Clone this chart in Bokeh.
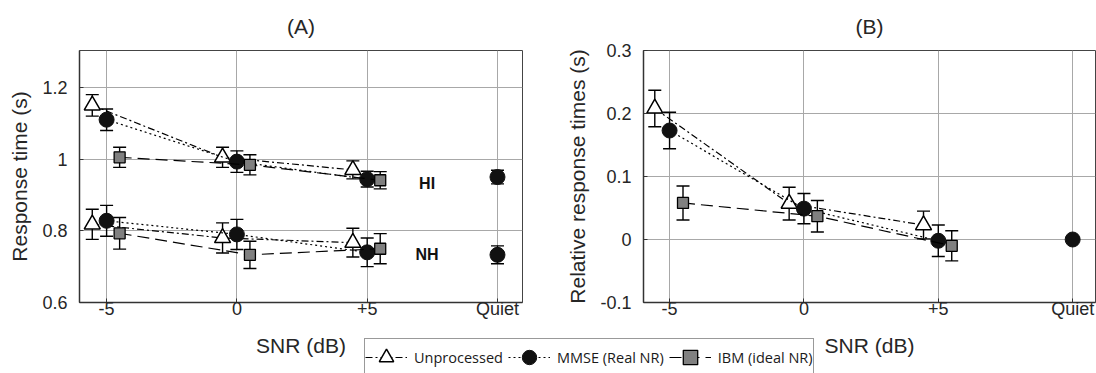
from bokeh.plotting import figure
from bokeh.models import (ColumnDataSource, Whisker, TeeHead, FixedTicker, Legend,
                          LegendItem, Label, Range1d)
from bokeh.layouts import row, column
from bokeh.embed import file_html
from bokeh.resources import INLINE

# ---------------- data ----------------
snr_ticks = [-5, 0, 5, 10]
snr_labels = ["-5", "0", "+5", "Quiet"]
snr_x = [-5, 0, 5]
quiet_x = [10]

# Panel A: response time (s)
hi_unproc = [1.150, 1.005, 0.970]
hi_unproc_err = [0.030, 0.028, 0.025]
hi_mmse = [1.110, 0.993, 0.944]
hi_mmse_err = [0.030, 0.030, 0.022]
hi_ibm = [1.005, 0.984, 0.941]
hi_ibm_err = [0.028, 0.028, 0.024]
hi_quiet = [0.950]
hi_quiet_err = [0.019]

nh_unproc = [0.818, 0.780, 0.767]
nh_unproc_err = [0.042, 0.042, 0.040]
nh_mmse = [0.828, 0.790, 0.740]
nh_mmse_err = [0.043, 0.042, 0.040]
nh_ibm = [0.793, 0.733, 0.750]
nh_ibm_err = [0.044, 0.038, 0.042]
nh_quiet = [0.733]
nh_quiet_err = [0.025]

a_yticks = [0.6, 0.8, 1.0, 1.2]
a_ylabels = ["0.6", "0.8", "1", "1.2"]

# Panel B: relative response times (s)
rel_unproc = [0.208, 0.057, 0.023]
rel_unproc_err = [0.029, 0.026, 0.022]
rel_mmse = [0.173, 0.049, -0.002]
rel_mmse_err = [0.029, 0.024, 0.025]
rel_ibm = [0.058, 0.037, -0.010]
rel_ibm_err = [0.027, 0.025, 0.024]
rel_quiet = [0.0]

b_yticks = [-0.1, 0.0, 0.1, 0.2, 0.3]
b_ylabels = ["-0.1", "0", "0.1", "0.2", "0.3"]

series_names = ["Unprocessed", "MMSE (Real NR)", "IBM (ideal NR)"]

# ---------------- styles ----------------
FONT = "Liberation Sans"
TXT = "#262626"
STY = {
    "unproc": dict(marker="triangle", size=16, fill_color="white", line_color="black",
                   line_width=1.5, dash="7 3 2 3", dx=-0.55),
    "mmse": dict(marker="circle", size=15, fill_color="#111111", line_color="#111111",
                 line_width=1.0, dash="2 3", dx=0.0),
    "ibm": dict(marker="square", size=11, fill_color="#808080", line_color="black",
                line_width=1.3, dash="12 6", dx=0.5),
}


def make_panel(title, ylabel, xr, yr, yticks, ylabels, width, mleft, mright):
    p = figure(width=width, height=373, x_range=Range1d(*xr), y_range=Range1d(*yr),
               output_backend="svg", toolbar_location=None,
               min_border_left=mleft, min_border_right=mright,
               min_border_top=50, min_border_bottom=71)
    p.title.text = title
    p.title.align = "center"
    p.title.text_font = FONT
    p.title.text_font_size = "21px"
    p.title.text_font_style = "normal"
    p.title.text_color = TXT
    p.title.standoff = 25
    p.outline_line_color = "#444444"
    p.outline_line_width = 1
    p.background_fill_color = "white"

    p.xaxis.ticker = FixedTicker(ticks=snr_ticks)
    p.xaxis.major_label_overrides = {t: l for t, l in zip(snr_ticks, snr_labels)}
    p.xaxis.axis_label = "SNR (dB)"
    p.yaxis.ticker = FixedTicker(ticks=yticks)
    p.yaxis.major_label_overrides = {t: l for t, l in zip(yticks, ylabels)}
    p.yaxis.axis_label = ylabel
    for ax in (p.xaxis, p.yaxis):
        ax.axis_line_color = "#333333"
        ax.axis_line_width = 1.5
        ax.major_tick_in = 4
        ax.major_tick_out = 0
        ax.major_tick_line_color = "#333333"
        ax.minor_tick_line_color = None
        ax.major_label_text_font = FONT
        ax.major_label_text_font_size = "18px"
        ax.major_label_text_color = TXT
        ax.axis_label_text_font = FONT
        ax.axis_label_text_font_size = "21px"
        ax.axis_label_text_font_style = "normal"
        ax.axis_label_text_color = TXT
    p.xaxis.major_label_standoff = -4
    p.xaxis.axis_label_standoff = 12
    p.yaxis.major_label_standoff = 12
    p.yaxis.axis_label_standoff = 8

    p.xgrid.ticker = FixedTicker(ticks=snr_ticks)
    p.ygrid.ticker = FixedTicker(ticks=yticks)
    for g in (p.xgrid, p.ygrid):
        g.grid_line_color = "#a8a8a8"
        g.grid_line_width = 1
        g.grid_line_alpha = 1.0
    return p


def draw(p, key, xs, ys, errs=None, connect=True):
    s = STY[key]
    xx = [x + s["dx"] for x in xs]
    if connect:
        p.line(xx, ys, line_color="black", line_width=1.2, line_dash=s["dash"])
    if errs is not None:
        src = ColumnDataSource(dict(base=xx, upper=[y + e for y, e in zip(ys, errs)],
                                    lower=[y - e for y, e in zip(ys, errs)]))
        w = Whisker(base="base", upper="upper", lower="lower", source=src,
                    line_color="black", line_width=1.4, level="underlay",
                    upper_head=TeeHead(size=13, line_width=1.4, line_color="black"),
                    lower_head=TeeHead(size=13, line_width=1.4, line_color="black"))
        p.add_layout(w)
    p.scatter(xx, ys, marker=s["marker"], size=s["size"], fill_color=s["fill_color"],
              line_color=s["line_color"], line_width=s["line_width"])


# ---------------- panel A ----------------
pa = make_panel("(A)", "Response time (s)", (-6.04, 10.96), (0.6, 1.303),
                a_yticks, a_ylabels, 550, 79, 28)
draw(pa, "unproc", snr_x, hi_unproc, hi_unproc_err)
draw(pa, "mmse", snr_x, hi_mmse, hi_mmse_err)
draw(pa, "ibm", snr_x, hi_ibm, hi_ibm_err)
draw(pa, "mmse", quiet_x, hi_quiet, hi_quiet_err, connect=False)
draw(pa, "unproc", snr_x, nh_unproc, nh_unproc_err)
draw(pa, "mmse", snr_x, nh_mmse, nh_mmse_err)
draw(pa, "ibm", snr_x, nh_ibm, nh_ibm_err)
draw(pa, "mmse", quiet_x, nh_quiet, nh_quiet_err, connect=False)

for txt, yy in (("HI", 0.933), ("NH", 0.733)):
    pa.add_layout(Label(x=7.3, y=yy, text=txt, text_font=FONT, text_font_size="16px",
                        text_font_style="bold", text_align="center",
                        text_baseline="middle", text_color="#111111"))

# ---------------- panel B ----------------
pb = make_panel("(B)", "Relative response times (s)", (-5.97, 10.85), (-0.1, 0.3),
                b_yticks, b_ylabels, 546, 93, 1)
draw(pb, "unproc", snr_x, rel_unproc, rel_unproc_err)
draw(pb, "mmse", snr_x, rel_mmse, rel_mmse_err)
draw(pb, "ibm", snr_x, rel_ibm, rel_ibm_err)
draw(pb, "mmse", quiet_x, rel_quiet, None, connect=False)

# ---------------- shared legend (own small figure overlapping the bottom) ----------------
# its ranges lie far from the data, so only the legend is visible here
pl = figure(width=457, height=35, x_range=Range1d(100, 101), y_range=Range1d(100, 101),
            output_backend="svg", toolbar_location=None, title=None,
            x_axis_type=None, y_axis_type=None, min_border=0)
pl.grid.visible = False
pl.outline_line_color = None
pl.background_fill_alpha = 0.0
pl.border_fill_alpha = 0.0
items = []
for key, name, ys in zip(["unproc", "mmse", "ibm"], series_names,
                         [hi_unproc, hi_mmse, hi_ibm]):
    s = STY[key]
    lr = pl.line(snr_x, ys, line_color="black", line_width=1.2, line_dash=s["dash"])
    sr = pl.scatter(snr_x, ys, marker=s["marker"], size=s["size"],
                    fill_color=s["fill_color"], line_color=s["line_color"],
                    line_width=s["line_width"])
    items.append(LegendItem(label=name, renderers=[lr, sr]))
legend = Legend(items=items, location="top_left", orientation="horizontal",
                label_text_font="Open Sans", label_text_font_size="14.5px",
                label_text_color="#1a1a1a",
                glyph_width=42, glyph_height=36, label_standoff=7, spacing=5,
                padding=0, margin=0, border_line_color="#333333", border_line_width=1,
                background_fill_color="white", background_fill_alpha=1.0)
pl.add_layout(legend, "center")
pl.styles = {"margin-top": "-35px", "margin-left": "364px"}

p = column(row(pa, pb), pl)
open("out.html", "w").write(file_html(p, INLINE))
